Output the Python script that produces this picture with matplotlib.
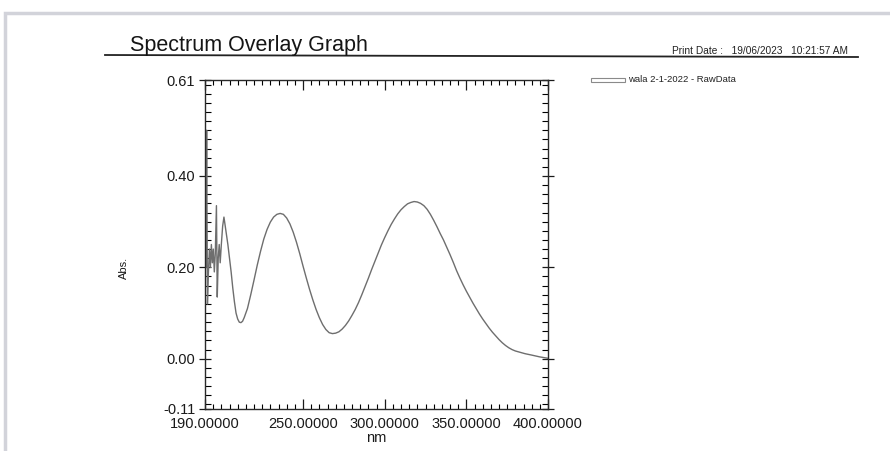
import matplotlib
matplotlib.use("Agg")
import matplotlib.pyplot as plt
from matplotlib.lines import Line2D
from matplotlib.patches import Rectangle
from matplotlib.ticker import FixedLocator, MultipleLocator

plt.rcParams['font.family'] = ['Liberation Sans', 'DejaVu Sans']

# Absorbance spectrum (wavelength in nm, absorbance)
wavelength = [190.0, 190.6, 191.0, 191.5, 192.1, 192.7, 193.3, 193.9, 194.5, 195.1,
              195.7, 196.3, 197.0, 197.5, 198.1, 198.7, 199.3, 200.0, 200.8, 201.6,
              202.4, 203.2, 204.0, 205.0, 206.0, 207.0, 208.0, 209.0, 210.0, 211.0,
              212.0, 213.0, 214.0, 216.0, 218.0, 220.0, 222.0, 224.0, 226.0, 228.0,
              230.0, 232.0, 234.0, 236.0, 238.0, 240.0, 242.0, 244.0, 246.0, 248.0,
              250.0, 252.0, 254.0, 256.0, 258.0, 260.0, 262.0, 264.0, 266.0, 268.0,
              270.0, 272.0, 274.0, 276.0, 278.0, 280.0, 282.0, 284.0, 286.0, 288.0,
              290.0, 292.0, 294.0, 296.0, 298.0, 300.0, 302.0, 304.0, 306.0, 308.0,
              310.0, 312.0, 314.0, 316.0, 318.0, 320.0, 322.0, 324.0, 326.0, 328.0,
              330.0, 332.0, 334.0, 336.0, 338.0, 340.0, 342.0, 344.0, 346.0, 348.0,
              350.0, 352.0, 354.0, 356.0, 358.0, 360.0, 362.0, 364.0, 366.0, 368.0,
              370.0, 372.0, 374.0, 376.0, 378.0, 380.0, 383.0, 386.0, 390.0, 395.0,
              400.0]
absorbance = [0.20, 0.20, 0.50, 0.12, 0.19, 0.24, 0.20, 0.25, 0.21, 0.24,
              0.19, 0.23, 0.335, 0.135, 0.22, 0.25, 0.21, 0.25, 0.29, 0.31,
              0.29, 0.27, 0.25, 0.22, 0.19, 0.155, 0.125, 0.100, 0.087, 0.080,
              0.079, 0.082, 0.090, 0.110, 0.140, 0.172, 0.205, 0.235, 0.262, 0.283,
              0.299, 0.310, 0.316, 0.318, 0.316, 0.308, 0.295, 0.277, 0.255, 0.230,
              0.203, 0.177, 0.152, 0.129, 0.108, 0.090, 0.075, 0.064, 0.057, 0.055,
              0.056, 0.059, 0.065, 0.073, 0.083, 0.095, 0.108, 0.123, 0.140, 0.158,
              0.176, 0.195, 0.213, 0.231, 0.249, 0.265, 0.280, 0.294, 0.306, 0.317,
              0.326, 0.333, 0.339, 0.342, 0.344, 0.343, 0.340, 0.335, 0.327, 0.316,
              0.303, 0.289, 0.274, 0.260, 0.244, 0.228, 0.211, 0.193, 0.177, 0.162,
              0.148, 0.135, 0.122, 0.110, 0.098, 0.087, 0.077, 0.067, 0.058, 0.050,
              0.042, 0.035, 0.029, 0.024, 0.020, 0.017, 0.014, 0.011, 0.008, 0.004,
              0.001]

x_tick_values = [190, 250, 300, 350, 400]
x_tick_labels = ["190.00000", "250.00000", "300.00000", "350.00000", "400.00000"]
y_tick_values = [-0.11, 0.00, 0.20, 0.40, 0.61]
y_tick_labels = ["-0.11", "0.00", "0.20", "0.40", "0.61"]

title_text = "Spectrum Overlay Graph"
print_date_text = "Print Date :   19/06/2023   10:21:57 AM"
series_name = "wala 2-1-2022 - RawData"

W, H = 890, 451
fig = plt.figure(figsize=(W / 100, H / 100), dpi=100)
fig.patch.set_facecolor("white")


def fx(px):
    return px / W


def fy(py):
    return 1 - py / H


# page frame
fig.patches.append(Rectangle((fx(5), fy(460)), fx(900), fy(13) - fy(460),
                             transform=fig.transFigure, fill=False,
                             edgecolor="#d2d3da", linewidth=2.5))

# header
fig.text(fx(130), fy(51), title_text, fontsize=15.5, color="#151515",
         ha="left", va="baseline")
fig.text(fx(848), fy(54), print_date_text, fontsize=7.3, color="#222222",
         ha="right", va="baseline")
fig.add_artist(Line2D([fx(105), fx(858)], [fy(55), fy(57)],
                      transform=fig.transFigure, color="#222222", linewidth=1.3))

# legend entry
fig.patches.append(Rectangle((fx(591), fy(82)), fx(34), fy(78) - fy(82),
                             transform=fig.transFigure, fill=False,
                             edgecolor="#8a8a8a", linewidth=0.8))
fig.text(fx(628), fy(80), series_name, fontsize=6.8, color="#222222",
         ha="left", va="center")

ax = fig.add_axes([fx(205), fy(409), fx(548) - fx(205), fy(80) - fy(409)])
ax.plot(wavelength, absorbance, color="#6e6e6e", linewidth=1.0)

ax.set_xlim(190, 400)
ax.set_ylim(-0.11, 0.61)

ax.xaxis.set_major_locator(FixedLocator(x_tick_values))
ax.set_xticklabels(x_tick_labels)
ax.xaxis.set_minor_locator(MultipleLocator(5))
ax.yaxis.set_major_locator(FixedLocator(y_tick_values))
ax.set_yticklabels(y_tick_labels)
ax.yaxis.set_minor_locator(MultipleLocator(0.02))

ax.tick_params(axis="x", which="major", direction="in", length=7, width=0.9,
               top=True, bottom=True, labelsize=10.5, pad=6, colors="#1a1a1a")
ax.tick_params(axis="x", which="minor", direction="in", length=3.5, width=0.8,
               top=True, bottom=True)
ax.tick_params(axis="y", which="major", direction="inout", length=8, width=0.9,
               left=True, right=True, labelsize=10.5, pad=3, colors="#1a1a1a")
ax.tick_params(axis="y", which="minor", direction="in", length=4, width=0.8,
               left=True, right=True)

for sp in ax.spines.values():
    sp.set_color("#2a2a2a")
    sp.set_linewidth(1.0)

ax.set_xlabel("nm", fontsize=10.5, labelpad=0, color="#1a1a1a")
fig.text(fx(124), fy(268), "Abs.", fontsize=8, rotation=90,
         ha="center", va="center", color="#1a1a1a")

fig.savefig("out.png", dpi=100)
